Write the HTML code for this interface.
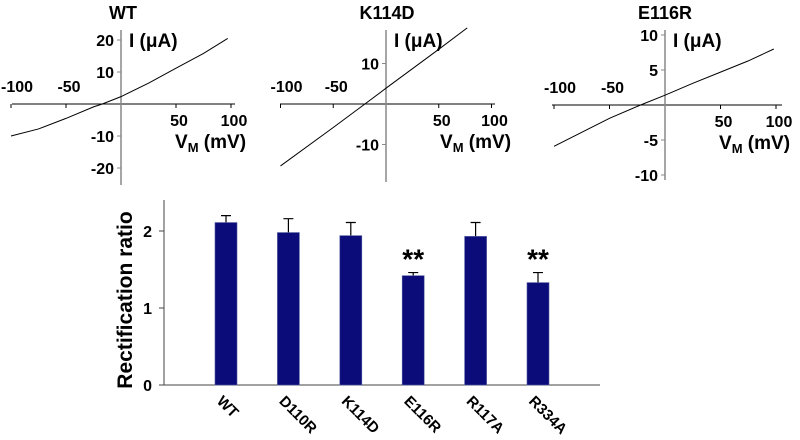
<!DOCTYPE html>
<html><head><meta charset="utf-8"><style>
body{margin:0;background:#fff;}
svg{display:block;font-family:"Liberation Sans",Arial,sans-serif;font-weight:bold;}
</style></head><body>
<svg id="s" width="800" height="440" viewBox="0 0 800 440"></svg>
<script>
const ivNames=["WT","K114D","E116R"];
const ivV=[[-100,-75,-50,-25,-17,0,25,50,75,97],[-100,-50,-20,0,50,77],[-100,-75,-50,-22,0,25,50,75,98]];
const ivI=[[-10,-7.8,-4.5,-0.9,0,2.3,6.5,11.2,15.8,20.5],[-15.3,-5.8,0,3.9,13.5,18.8],[-5.9,-3.9,-1.9,0,1.4,3.1,4.7,6.3,8]];
const ivYTicks=[[20,10,-10,-20],[10,-10],[10,5,-5,-10]];
const ivXTicks=[-100,-50,50,100];
const cats=["WT","D110R","K114D","E116R","R117A","R334A"];
const vals=[2.11,1.98,1.94,1.42,1.93,1.33];
const errs=[0.09,0.18,0.17,0.04,0.18,0.13];
const stars=["","","","**","","**"];
const barTicks=[0,1,2];

const NS="http://www.w3.org/2000/svg",S=document.getElementById('s');
function el(t,a,p){const e=document.createElementNS(NS,t);for(const k in a)e.setAttribute(k,a[k]);(p||S).appendChild(e);return e;}
function txt(x,y,s,o,p){const e=el('text',Object.assign({x:x,y:y,'font-size':16,fill:'#000'},o||{}),p);e.textContent=s;return e;}

const geo=[{x0:121,y0:104,sx:1.1,sy:3.2,top:30,bot:185,xl:12,xr:235,tc:123},
           {x0:386,y0:104,sx:1.055,sy:4.05,top:30,bot:182,xl:280,xr:495,tc:387},
           {x0:665,y0:105,sx:1.11,sy:7.0,top:30,bot:180,xl:552,xr:782,tc:665}];
geo.forEach((g,i)=>{
  const gp=el('g',{});
  
  
  const X=v=>g.x0+v*g.sx, Y=c=>g.y0-c*g.sy;
  const t=txt(g.tc,19,ivNames[i],{'font-size':18,'text-anchor':'middle'},gp);
  
  const xa=el('line',{x1:g.xl,x2:g.xr,y1:g.y0,y2:g.y0,stroke:'#000','stroke-width':1},gp);
  
  const ya=el('line',{x1:g.x0,x2:g.x0,y1:g.top,y2:g.bot,stroke:'#888','stroke-width':1.5},gp);
  
  ivXTicks.forEach(v=>{
    el('line',{x1:X(v),x2:X(v),y1:g.y0,y2:g.y0+4,stroke:'#000'},gp);
    const l=txt(X(v)+(v==-100?6:3),v<0?g.y0-12:g.y0+22,String(v),{'text-anchor':'middle'},gp);
    
  });
  ivYTicks[i].forEach(c=>{
    el('line',{x1:g.x0-4,x2:g.x0,y1:Y(c),y2:Y(c),stroke:'#888'},gp);
    const l=txt(g.x0-7,Y(c)+6,String(c),{'text-anchor':'end'},gp);
    
  });
  const yl=txt(g.x0+8,47,'I (μA)',{'font-size':19},gp);
  
  const xlab=el('text',{x:g.x0+54,y:g.y0+44,'font-size':19},gp);
  xlab.innerHTML='V<tspan font-size="13" dy="4">M</tspan><tspan dy="-4"> (mV)</tspan>';
  
  const pts=ivV[i].map((v,k)=>X(v)+','+Y(ivI[i][k])).join(' ');
  const pl=el('polyline',{points:pts,fill:'none',stroke:'#000','stroke-width':1},gp);
  
});

const bx0=164,by0=385,bsy=77,bstep=62.4,bfirst=226,bw=22;
const BY=v=>by0-v*bsy, BX=i=>bfirst+i*bstep;
const bg=el('g',{});

const ax=el('line',{x1:bx0,x2:bx0,y1:200,y2:by0,stroke:'#444','stroke-width':1},bg);

const bxa=el('line',{x1:bx0,x2:600,y1:by0,y2:by0,stroke:'#444','stroke-width':1},bg);

barTicks.forEach(v=>{
  el('line',{x1:bx0-5,x2:bx0,y1:BY(v),y2:BY(v),stroke:'#444'},bg);
  const l=txt(bx0-12,BY(v)+6,String(v),{'text-anchor':'end'},bg);
  
});
const yt=txt(0,0,'Rectification ratio',{'font-size':21,'text-anchor':'middle',transform:'translate(132,300) rotate(-90)'},bg);

cats.forEach((c,i)=>{
  const cx=BX(i);
  const e=el('path',{d:`M${cx} ${BY(vals[i])}V${BY(vals[i]+errs[i])}M${cx-5} ${BY(vals[i]+errs[i])}H${cx+5}`,stroke:'#000','stroke-width':1.2,fill:'none'},bg);
  
  const r=el('rect',{x:cx-bw/2,y:BY(vals[i]),width:bw,height:by0-BY(vals[i]),fill:'#0b0b7a',stroke:'#5560a0','stroke-width':0.6},bg);
  
  if(stars[i]){const s=txt(cx,BY(vals[i]+errs[i])-4,stars[i],{'font-size':28,'text-anchor':'middle'},bg);
    }
  const l=txt(0,0,c,{'font-size':15,transform:`translate(${cx-10},${by0+17}) rotate(45)`},bg);
  
});
</script>
</body></html>
